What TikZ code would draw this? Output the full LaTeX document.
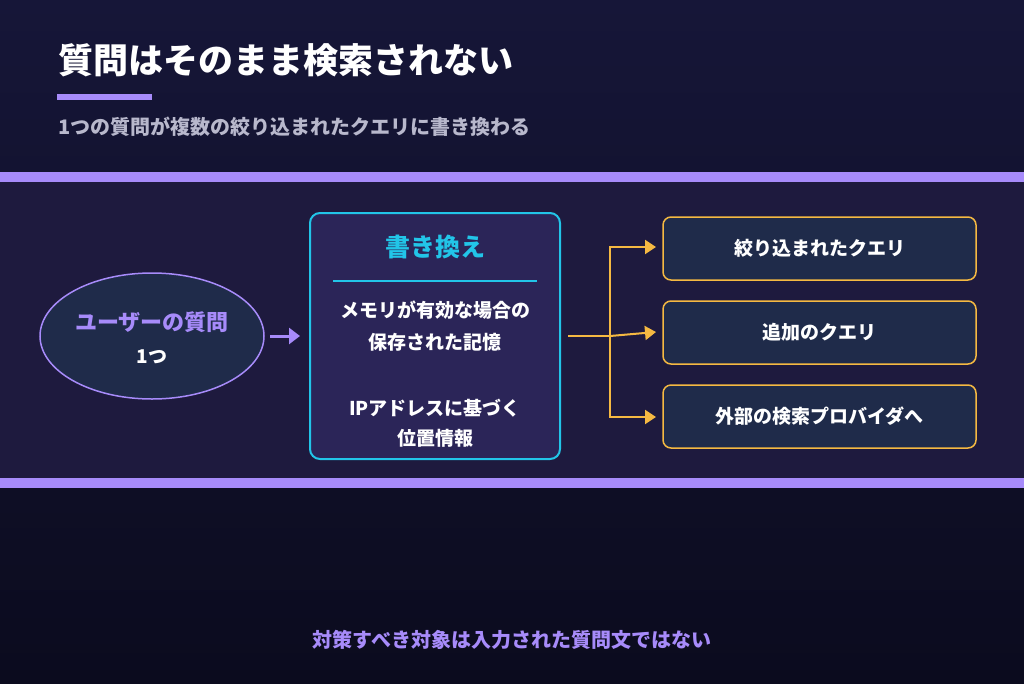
\documentclass[tikz,border=0pt]{standalone}
\usepackage{fontspec}
\setmainfont{Noto Sans CJK JP}
\usetikzlibrary{arrows.meta,shapes.geometric}
\definecolor{purp}{HTML}{A78BFA}
\definecolor{cyanb}{HTML}{22C5E8}
\definecolor{oran}{HTML}{F5B942}
\definecolor{rbox}{HTML}{1F2B4A}
\definecolor{bgtop}{HTML}{161638}
\definecolor{bgbot}{HTML}{0B0B1E}
\definecolor{band}{HTML}{1E1A3E}
\definecolor{subg}{HTML}{B8B8CC}
\definecolor{cbox}{HTML}{2B2558}
\begin{document}
\begin{tikzpicture}[x=1pt,y=-1pt,
 rb/.style={draw=oran,line width=1.5pt,fill=rbox,rounded corners=8pt,minimum width=313pt,minimum height=63pt,text=white,font=\fontsize{19}{22}\selectfont\bfseries},
 oa/.style={draw=oran,line width=2pt,-{Triangle[length=11pt,width=14pt]}},
 wt/.style={text=white,font=\fontsize{19}{22}\selectfont\bfseries}]
\useasboundingbox (0,0) rectangle (1024,683);
\shade[top color=bgtop,bottom color=bgbot] (0,0) rectangle (1024,683);
\fill[band] (0,182) rectangle (1024,478);
\fill[purp] (0,172) rectangle (1024,182);
\fill[purp] (0,478) rectangle (1024,488);
\node[anchor=west,text=white,font=\fontsize{35}{40}\selectfont\bfseries] (title) at (55,60) {質問はそのまま検索されない};
\fill[purp] (57,94) rectangle (152,100);
\node[anchor=west,text=subg,font=\fontsize{20}{24}\selectfont\bfseries] (sub) at (55,127) {1つの質問が複数の絞り込まれたクエリに書き換わる};
\node[ellipse,draw=purp,line width=1.5pt,fill=rbox,minimum width=224pt,minimum height=126pt] (q) at (152,336) {};
\node[text=purp,font=\fontsize{22}{26}\selectfont\bfseries] at (152,322) {ユーザーの質問};
\node[wt] at (152,357) {1つ};
\node[draw=cyanb,line width=2pt,fill=cbox,rounded corners=10pt,minimum width=250pt,minimum height=246pt] (rw) at (435,336) {};
\draw[purp,line width=3pt,-{Triangle[length=11pt,width=16pt]}] (270,336) -- (300,336);
\node[text=cyanb,font=\fontsize{25}{30}\selectfont\bfseries] at (435,247) {書き換え};
\draw[cyanb,line width=1.5pt] (333,281) -- (537,281);
\node[wt] at (435,310) {メモリが有効な場合の};
\node[wt] at (435,342) {保存された記憶};
\node[wt] at (435,408) {IPアドレスに基づく};
\node[wt] at (435,438) {位置情報};
\node[rb] (r1) at (819.5,248.5) {絞り込まれたクエリ};
\node[rb] (r2) at (819.5,332.5) {追加のクエリ};
\node[rb] (r3) at (819.5,416.5) {外部の検索プロバイダへ};
\coordinate (s) at (568,336);
\coordinate (j) at (610,336);
\draw[oran,line width=2pt] (s) -- (j);
\draw[oran,line width=2pt] (610,246) -- (610,418);
\draw[oa] (610,247) -- (656,247);
\draw[oa] (j) -- (656,332);
\draw[oa] (610,417) -- (656,417);
\node[text=purp,font=\fontsize{20}{24}\selectfont\bfseries] (bot) at (512,640) {対策すべき対象は入力された質問文ではない};
\end{tikzpicture}
\end{document}
